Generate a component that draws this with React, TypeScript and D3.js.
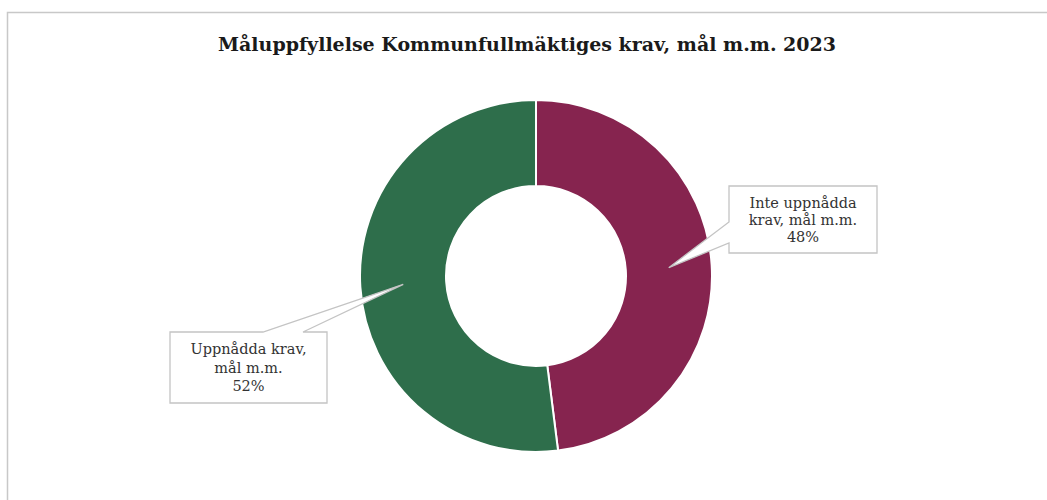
import React from "react";
import * as d3 from "d3";

const title = "Måluppfyllelse Kommunfullmäktiges krav, mål m.m. 2023";
const categories = ["Inte uppnådda krav, mål m.m.", "Uppnådda krav, mål m.m."];
const values = [48, 52];
const labelLines = [
  ["Inte uppnådda", "krav, mål m.m.", "48%"],
  ["Uppnådda krav,", "mål m.m.", "52%"],
];
const colors = ["#86244F", "#2E6E4B"];

const W = 1047;
const H = 500;
const cx = 536;
const cy = 276;
const rOuter = 176;
const rInner = 90;

const boxes = [
  { x: 729, y: 186, w: 148, h: 67, side: "left", p1: 222, p2: 243, lineH: 17 },
  { x: 170, y: 332, w: 157, h: 71, side: "top", p1: 263, p2: 303, lineH: 18.5 },
];

export default function App() {
  const pie = d3.pie<number>().sort(null).value((d) => d);
  const arcs = pie(values);
  const arc = d3.arc<d3.PieArcDatum<number>>().innerRadius(rInner).outerRadius(rOuter);
  const midArc = d3
    .arc<d3.PieArcDatum<number>>()
    .innerRadius((rInner + rOuter) / 2)
    .outerRadius((rInner + rOuter) / 2);

  return (
    <svg
      width={W}
      height={H}
      style={{ position: "absolute", left: 0, top: 0, background: "#fff" }}
    >
      <rect x={7.5} y={12.5} width={W + 10} height={H + 10} fill="#fff" stroke="#c8c8c8" strokeWidth={1.5} />
      <text
        x={527}
        y={51}
        textAnchor="middle"
        fontFamily="'DejaVu Serif', serif"
        fontSize={18.5}
        fontWeight={600}
        fill="#1a1a1a"
        textLength={618}
        lengthAdjust="spacingAndGlyphs"
      >
        {title}
      </text>
      <g transform={`translate(${cx},${cy})`}>
        {arcs.map((a, i) => (
          <path key={categories[i]} d={arc(a) || ""} fill={colors[i]} stroke="#fff" strokeWidth={2} />
        ))}
      </g>
      {arcs.map((a, i) => {
        const [tx, ty] = midArc.centroid(a);
        const tipX = cx + tx;
        const tipY = cy + ty;
        const b = boxes[i];
        let pts: [number, number][];
        if (b.side === "left") {
          pts = [
            [b.x, b.y],
            [b.x + b.w, b.y],
            [b.x + b.w, b.y + b.h],
            [b.x, b.y + b.h],
            [b.x, b.p2],
            [tipX, tipY],
            [b.x, b.p1],
          ];
        } else {
          pts = [
            [b.x, b.y],
            [b.p1, b.y],
            [tipX, tipY],
            [b.p2, b.y],
            [b.x + b.w, b.y],
            [b.x + b.w, b.y + b.h],
            [b.x, b.y + b.h],
          ];
        }
        const lines = labelLines[i];
        const midX = b.x + b.w / 2;
        const startY = b.y + b.h / 2 - ((lines.length - 1) * b.lineH) / 2;
        return (
          <g key={"lbl" + i}>
            <path
              d={"M" + pts.map((p) => p.join(",")).join("L") + "Z"}
              fill="#fff"
              stroke="#c4c4c4"
              strokeWidth={1.3}
            />
            <text
              textAnchor="middle"
              fontFamily="'DejaVu Serif', serif"
              fontSize={14.5}
              fill="#333"
            >
              {lines.map((l, j) => (
                <tspan key={j} x={midX} y={startY + j * b.lineH} dy="0.35em">
                  {l}
                </tspan>
              ))}
            </text>
          </g>
        );
      })}
    </svg>
  );
}
